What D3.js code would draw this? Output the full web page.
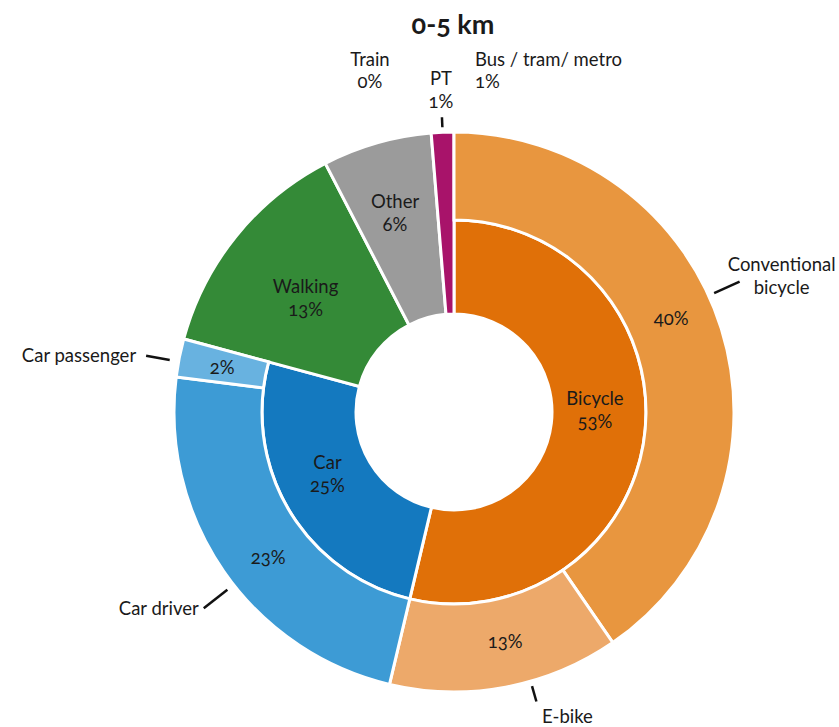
<!DOCTYPE html>
<html>
<head>
<meta charset="utf-8">
<script src="https://cdn.jsdelivr.net/npm/d3@7"></script>
<style>
  body { margin: 0; background: #fff; }
  svg { display: block; }
  text { font-family: Lato, "Open Sans", sans-serif; fill: #1a1a1a; font-variant-numeric: oldstyle-nums; }
</style>
</head>
<body>
<div id="chart"></div>
<script>
// Modal split for trips of 0-5 km (share of trips, %)
var groups = ["Bicycle", "Car", "Walking", "Other", "PT"];
var groupColors = ["#e07008", "#1479bf", "#348a37", "#9b9b9b", "#a8136a"];

var subs = ["Conventional bicycle", "E-bike", "Car driver", "Car passenger", "Walking", "Other", "Train", "Bus / tram/ metro"];
var subParent = ["Bicycle", "Bicycle", "Car", "Car", "Walking", "Other", "PT", "PT"];
var subValues = [40.4, 13.3, 23.3, 2.2, 13.2, 6.3, 0.3, 1.0];
var subColors = ["#e8963f", "#eda96a", "#3d9bd5", "#68b2e0", null, null, null, null];

var title = "0-5 km";

// Chart dimensions.
var width = 839, height = 727,
	cx = 454, cy = 412,
	rHole = 98, rMid = 192, rOut = 280;
var fs = "18.5px";

var svg = d3.select("#chart").append("svg")
	.attr("width", width)
	.attr("height", height);

var g = svg.append("g")
	.attr("transform", "translate(" + cx + "," + cy + ")");

var rows = subs.map(function(s, i) {
	return {name: s, parent: subParent[i], value: subValues[i], color: subColors[i]};
});

// group totals
var totals = d3.rollup(rows, function(v) { return d3.sum(v, function(d) { return d.value; }); }, function(d) { return d.parent; });
// groups with their own sub split (bicycle, car) get two rings
function isSplit(name) { return name == "Bicycle" || name == "Car"; }

var pie = d3.pie().sort(null).value(function(d) { return d.value; });

var groupArcs = pie(groups.map(function(n, i) {
	return {name: n, value: totals.get(n), color: groupColors[i]};
}));
var subArcs = pie(rows);

var innerArc = d3.arc().innerRadius(rHole).outerRadius(rMid);
var fullArc = d3.arc().innerRadius(rHole).outerRadius(rOut);
var outerArc = d3.arc().innerRadius(rMid).outerRadius(rOut);

function pct(v) { return Math.floor(v) + "%"; }
function polar(a, r) { return [r * Math.sin(a), -r * Math.cos(a)]; }
function at(d, t) { return d.startAngle + t * (d.endAngle - d.startAngle); }

// Inner ring + full-depth segments
g.append("g").selectAll("path")
	.data(groupArcs)
	.enter().append("path")
	.attr("d", function(d) { return isSplit(d.data.name) ? innerArc(d) : fullArc(d); })
	.style("fill", function(d) { return d.data.color; })
	.style("stroke", "#fff")
	.style("stroke-width", 3);

// Outer ring
var outerData = subArcs.filter(function(d) { return isSplit(d.data.parent); });
g.append("g").selectAll("path")
	.data(outerData)
	.enter().append("path")
	.attr("d", outerArc)
	.style("fill", function(d) { return d.data.color; })
	.style("stroke", "#fff")
	.style("stroke-width", 3);

// where the group label sits: fraction along the arc, radius
var groupLabelPos = {Bicycle: [0.462, 141], Car: [0.55, 141], Walking: [0.47, 187], Other: [0.48, 208]};

var groupLabels = g.append("g").selectAll("text")
	.data(groupArcs.filter(function(d) { return d.data.name != "PT"; }))
	.enter().append("text")
	.attr("text-anchor", "middle")
	.style("font-size", fs)
	.attr("transform", function(d) {
		var lp = groupLabelPos[d.data.name];
		var p = polar(at(d, lp[0]), lp[1]);
		return "translate(" + p[0] + "," + p[1] + ")";
	});
groupLabels.append("tspan").attr("x", 0).attr("y", -5).text(function(d) { return d.data.name; });
groupLabels.append("tspan").attr("x", 0).attr("y", 18).text(function(d) { return pct(d.data.value); });

// Percentages in the outer ring
g.append("g").selectAll("text")
	.data(outerData)
	.enter().append("text")
	.attr("text-anchor", "middle")
	.style("font-size", fs)
	.attr("transform", function(d) {
		var p = polar(at(d, 0.46), 236);
		return "translate(" + p[0] + "," + (p[1] + 6) + ")";
	})
	.text(function(d) { return pct(d.data.value); });

// Outside labels with leader lines
var outside = [
	{name: "Conventional bicycle", t: 0.45, r1: 286, r2: 314, anchor: "middle", dx: 42, dy: [-11, 12], lines: ["Conventional", "bicycle"]},
	{name: "E-bike", t: 0.39, r1: 285, r2: 301, anchor: "middle", dx: 31, dy: [21]},
	{name: "Car driver", t: 0.46, r1: 288, r2: 318, anchor: "end", dx: -5, dy: [7]},
	{name: "Car passenger", t: 0.40, r1: 289, r2: 313, anchor: "end", dx: -10, dy: [6]}
];
var subByName = {};
subArcs.forEach(function(d) { subByName[d.data.name] = d; });

outside.forEach(function(o) {
	var d = subByName[o.name];
	var a = at(d, o.t);
	var p1 = polar(a, o.r1), p2 = polar(a, o.r2);
	g.append("line")
		.attr("x1", p1[0]).attr("y1", p1[1])
		.attr("x2", p2[0]).attr("y2", p2[1])
		.style("stroke", "#111")
		.style("stroke-width", 2.5);
	var words = o.lines || [o.name];
	var t = g.append("text")
		.attr("text-anchor", o.anchor)
		.style("font-size", fs);
	words.forEach(function(w, i) {
		t.append("tspan").attr("x", p2[0] + o.dx).attr("y", p2[1] + o.dy[i]).text(w);
	});
});

// Public transport: leader above the slim segment, sub-values either side
var pt = groupArcs.filter(function(d) { return d.data.name == "PT"; })[0];
var aPT = at(pt, 0.5);
var q1 = polar(aPT, 285), q2 = polar(aPT, 295);
g.append("line")
	.attr("x1", q1[0]).attr("y1", q1[1])
	.attr("x2", q2[0]).attr("y2", q2[1])
	.style("stroke", "#111")
	.style("stroke-width", 2.5);
var ptText = g.append("text").attr("text-anchor", "middle").style("font-size", fs);
ptText.append("tspan").attr("x", q2[0] - 1).attr("y", q2[1] - 32).text("PT");
ptText.append("tspan").attr("x", q2[0] - 1).attr("y", q2[1] - 9).text(pct(pt.data.value));

var train = subByName["Train"], bus = subByName["Bus / tram/ metro"];
var trainText = g.append("text").attr("text-anchor", "middle").style("font-size", fs);
trainText.append("tspan").attr("x", q2[0] - 72).attr("y", q2[1] - 51).text(train.data.name);
trainText.append("tspan").attr("x", q2[0] - 72).attr("y", q2[1] - 29).text(pct(train.data.value));
var busText = g.append("text").attr("text-anchor", "start").style("font-size", fs);
busText.append("tspan").attr("x", q2[0] + 33).attr("y", q2[1] - 51).text(bus.data.name);
busText.append("tspan").attr("x", q2[0] + 33).attr("y", q2[1] - 29).text(pct(bus.data.value));

// Title
svg.append("text")
	.attr("x", 453)
	.attr("y", 34)
	.attr("text-anchor", "middle")
	.style("font-size", "27px")
	.style("font-weight", "bold")
	.text(title);
</script>
</body>
</html>
